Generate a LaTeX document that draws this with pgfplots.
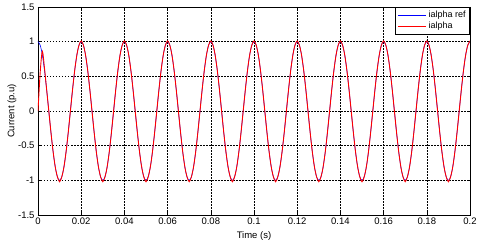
\documentclass[border=0pt]{standalone}
\usepackage{pgfplots}
\usepackage{pgfplotstable}
\pgfplotsset{compat=1.18}
\usepackage{fontspec}
\setmainfont{Liberation Sans}
\pgfplotstableread{
t ref ia
0.000 1 0
0.001 0.9511 0.55
0.002 0.8090 0.86
0.003 0.5878 0.62
0.004 0.3090 0.3090
0.005 0 0
0.006 -0.3090 -0.3090
0.007 -0.5878 -0.5878
0.008 -0.8090 -0.8090
0.009 -0.9511 -0.9511
0.010 -1 -1.02
0.011 -0.9511 -0.9511
0.012 -0.8090 -0.8090
0.013 -0.5878 -0.5878
0.014 -0.3090 -0.3090
0.015 0 0
0.016 0.3090 0.3090
0.017 0.5878 0.5878
0.018 0.8090 0.8090
0.019 0.9511 0.9511
0.020 1 1.01
0.021 0.9511 0.9511
0.022 0.8090 0.8090
0.023 0.5878 0.5878
0.024 0.3090 0.3090
0.025 0 0
0.026 -0.3090 -0.3090
0.027 -0.5878 -0.5878
0.028 -0.8090 -0.8090
0.029 -0.9511 -0.9511
0.030 -1 -1.02
0.031 -0.9511 -0.9511
0.032 -0.8090 -0.8090
0.033 -0.5878 -0.5878
0.034 -0.3090 -0.3090
0.035 0 0
0.036 0.3090 0.3090
0.037 0.5878 0.5878
0.038 0.8090 0.8090
0.039 0.9511 0.9511
0.040 1 1.01
0.041 0.9511 0.9511
0.042 0.8090 0.8090
0.043 0.5878 0.5878
0.044 0.3090 0.3090
0.045 0 0
0.046 -0.3090 -0.3090
0.047 -0.5878 -0.5878
0.048 -0.8090 -0.8090
0.049 -0.9511 -0.9511
0.050 -1 -1.02
0.051 -0.9511 -0.9511
0.052 -0.8090 -0.8090
0.053 -0.5878 -0.5878
0.054 -0.3090 -0.3090
0.055 0 0
0.056 0.3090 0.3090
0.057 0.5878 0.5878
0.058 0.8090 0.8090
0.059 0.9511 0.9511
0.060 1 1.01
0.061 0.9511 0.9511
0.062 0.8090 0.8090
0.063 0.5878 0.5878
0.064 0.3090 0.3090
0.065 0 0
0.066 -0.3090 -0.3090
0.067 -0.5878 -0.5878
0.068 -0.8090 -0.8090
0.069 -0.9511 -0.9511
0.070 -1 -1.02
0.071 -0.9511 -0.9511
0.072 -0.8090 -0.8090
0.073 -0.5878 -0.5878
0.074 -0.3090 -0.3090
0.075 0 0
0.076 0.3090 0.3090
0.077 0.5878 0.5878
0.078 0.8090 0.8090
0.079 0.9511 0.9511
0.080 1 1.01
0.081 0.9511 0.9511
0.082 0.8090 0.8090
0.083 0.5878 0.5878
0.084 0.3090 0.3090
0.085 0 0
0.086 -0.3090 -0.3090
0.087 -0.5878 -0.5878
0.088 -0.8090 -0.8090
0.089 -0.9511 -0.9511
0.090 -1 -1.02
0.091 -0.9511 -0.9511
0.092 -0.8090 -0.8090
0.093 -0.5878 -0.5878
0.094 -0.3090 -0.3090
0.095 0 0
0.096 0.3090 0.3090
0.097 0.5878 0.5878
0.098 0.8090 0.8090
0.099 0.9511 0.9511
0.100 1 1.01
0.101 0.9511 0.9511
0.102 0.8090 0.8090
0.103 0.5878 0.5878
0.104 0.3090 0.3090
0.105 0 0
0.106 -0.3090 -0.3090
0.107 -0.5878 -0.5878
0.108 -0.8090 -0.8090
0.109 -0.9511 -0.9511
0.110 -1 -1.02
0.111 -0.9511 -0.9511
0.112 -0.8090 -0.8090
0.113 -0.5878 -0.5878
0.114 -0.3090 -0.3090
0.115 0 0
0.116 0.3090 0.3090
0.117 0.5878 0.5878
0.118 0.8090 0.8090
0.119 0.9511 0.9511
0.120 1 1.01
0.121 0.9511 0.9511
0.122 0.8090 0.8090
0.123 0.5878 0.5878
0.124 0.3090 0.3090
0.125 0 0
0.126 -0.3090 -0.3090
0.127 -0.5878 -0.5878
0.128 -0.8090 -0.8090
0.129 -0.9511 -0.9511
0.130 -1 -1.02
0.131 -0.9511 -0.9511
0.132 -0.8090 -0.8090
0.133 -0.5878 -0.5878
0.134 -0.3090 -0.3090
0.135 0 0
0.136 0.3090 0.3090
0.137 0.5878 0.5878
0.138 0.8090 0.8090
0.139 0.9511 0.9511
0.140 1 1.01
0.141 0.9511 0.9511
0.142 0.8090 0.8090
0.143 0.5878 0.5878
0.144 0.3090 0.3090
0.145 0 0
0.146 -0.3090 -0.3090
0.147 -0.5878 -0.5878
0.148 -0.8090 -0.8090
0.149 -0.9511 -0.9511
0.150 -1 -1.02
0.151 -0.9511 -0.9511
0.152 -0.8090 -0.8090
0.153 -0.5878 -0.5878
0.154 -0.3090 -0.3090
0.155 0 0
0.156 0.3090 0.3090
0.157 0.5878 0.5878
0.158 0.8090 0.8090
0.159 0.9511 0.9511
0.160 1 1.01
0.161 0.9511 0.9511
0.162 0.8090 0.8090
0.163 0.5878 0.5878
0.164 0.3090 0.3090
0.165 0 0
0.166 -0.3090 -0.3090
0.167 -0.5878 -0.5878
0.168 -0.8090 -0.8090
0.169 -0.9511 -0.9511
0.170 -1 -1.02
0.171 -0.9511 -0.9511
0.172 -0.8090 -0.8090
0.173 -0.5878 -0.5878
0.174 -0.3090 -0.3090
0.175 0 0
0.176 0.3090 0.3090
0.177 0.5878 0.5878
0.178 0.8090 0.8090
0.179 0.9511 0.9511
0.180 1 1.01
0.181 0.9511 0.9511
0.182 0.8090 0.8090
0.183 0.5878 0.5878
0.184 0.3090 0.3090
0.185 0 0
0.186 -0.3090 -0.3090
0.187 -0.5878 -0.5878
0.188 -0.8090 -0.8090
0.189 -0.9511 -0.9511
0.190 -1 -1.02
0.191 -0.9511 -0.9511
0.192 -0.8090 -0.8090
0.193 -0.5878 -0.5878
0.194 -0.3090 -0.3090
0.195 0 0
0.196 0.3090 0.3090
0.197 0.5878 0.5878
0.198 0.8090 0.8090
0.199 0.9511 0.9511
0.200 1 1.01
}\datatable
\begin{document}
\begin{tikzpicture}
\useasboundingbox (0,0) rectangle (480pt,246pt);
\begin{axis}[
  at={(38pt,31pt)}, anchor=south west,
  scale only axis, width=432pt, height=208pt,
  xmin=0, xmax=0.2, ymin=-1.5, ymax=1.5,
  xtick={0,0.02,...,0.2},
  xticklabels={0,0.02,0.04,0.06,0.08,0.1,0.12,0.14,0.16,0.18,0.2},
  ytick={-1.5,-1,-0.5,0,0.5,1,1.5},
  yticklabels={-1.5,-1,-0.5,0,0.5,1,1.5},
  tick align=inside, tick style={black, thin},
  major tick length=3pt,
  grid=major,
  major grid style={black, dash pattern=on 1.5pt off 1.5pt, line width=0.5pt},
  axis line style={black, line width=0.6pt},
  ticklabel style={font=\fontsize{9.5}{11}\selectfont},
  xticklabel style={yshift=1pt},
  label style={font=\fontsize{9.5}{11}\selectfont},
  xlabel={Time (s)}, ylabel={Current (p.u)},
  xlabel style={yshift=0pt},
  ylabel style={yshift=-5pt},
  legend style={at={(1,1)}, anchor=north east, draw=black, line width=0.6pt,
    font=\fontsize{9}{10}\selectfont, row sep=-1pt, inner sep=2pt},
  legend cell align=left,
  legend image code/.code={\draw[#1] (0cm,0cm) -- (1cm,0cm);},
]
\addplot[blue, line width=0.6pt, smooth] table[x=t, y=ref] {\datatable};
\addlegendentry{ialpha ref}
\addplot[red, line width=0.9pt, smooth] table[x=t, y=ia] {\datatable};
\addlegendentry{ialpha}
\end{axis}
\end{tikzpicture}
\end{document}
